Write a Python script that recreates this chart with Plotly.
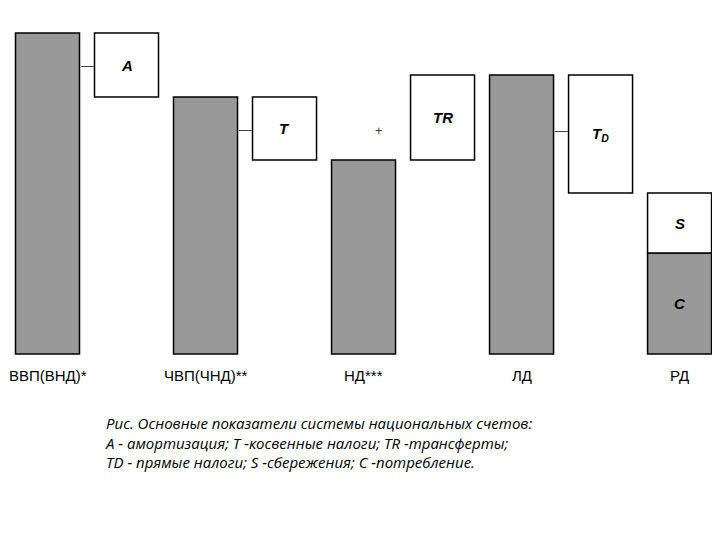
import plotly.graph_objects as go

# values (arbitrary units, baseline 0)
gdp = 321
amort = 64
ndp = 257
tax_ind = 63
ni = 194
transfers = 85
pi = 279
tax_dir = 118
saving = 60
consumption = 101

axis_labels = ['ВВП(ВНД)*', 'ЧВП(ЧНД)**', 'НД***', 'ЛД', 'РД']
caption = ['Рис. Основные показатели системы национальных счетов:',
           'А - амортизация; Т -косвенные налоги; TR -трансферты;',
           'TD - прямые налоги; S -сбережения; С -потребление.']

# grey bars: x position, height, base
grey_x = [0, 2, 4, 6, 8]
grey_h = [gdp, ndp, ni, pi, consumption]
grey_base = [0, 0, 0, 0, 0]

# white boxes: x position, height, base, label
white_x = [1, 3, 5, 7, 8]
white_h = [amort, tax_ind, transfers, tax_dir, saving]
white_base = [ndp, ni, ni, pi - tax_dir, consumption]
white_txt = ['A', 'T', 'TR', 'T<sub>D</sub>', 'S']

fig = go.Figure()
fig.add_trace(go.Bar(x=grey_x, y=grey_h, base=grey_base, width=0.81,
                     marker=dict(color='#999999', line=dict(color='black', width=1.5))))
fig.add_trace(go.Bar(x=white_x, y=white_h, base=white_base, width=0.81,
                     marker=dict(color='white', line=dict(color='black', width=1.5))))

# labels inside the boxes
for x, h, b, t in zip(white_x, white_h, white_base, white_txt):
    fig.add_annotation(x=x, y=b + h / 2, text='<b><i>' + t + '</i></b>', showarrow=False,
                       font=dict(size=15, family='Liberation Sans', color='black'))
fig.add_annotation(x=8, y=consumption / 2, text='<b><i>C</i></b>', showarrow=False,
                   font=dict(size=15, family='Liberation Sans', color='black'))

# small signs between columns
signs = [(0.5, gdp - 32, '—'), (2.5, ndp - 32, '—'), (4.2, ni + 30, '+'), (6.5, ni + 30, '—')]
for x, y, t in signs:
    fig.add_annotation(x=x, y=y, text=t, showarrow=False,
                       font=dict(size=13, family='Liberation Sans', color='#444444'))

for x, t in zip(grey_x, axis_labels):
    fig.add_annotation(x=x, y=-21, text=t, showarrow=False,
                       font=dict(size=15, family='Liberation Sans', color='black'))

fig.add_annotation(x=95 / 720, y=1 - 403 / 540, xref='paper', yref='paper', xanchor='left',
                   yanchor='top', align='left', showarrow=False,
                   text='<i>' + '<br>'.join(caption) + '</i>',
                   font=dict(size=15, family='Open Sans', color='black'))

fig.update_xaxes(range=[-0.5, 8.613], visible=False)
fig.update_yaxes(range=[-194, 346], visible=False)
fig.update_layout(width=720, height=540, margin=dict(l=0, r=0, t=0, b=0),
                  showlegend=False, plot_bgcolor='white', paper_bgcolor='white', barmode='overlay')
fig.write_html('out.html')
